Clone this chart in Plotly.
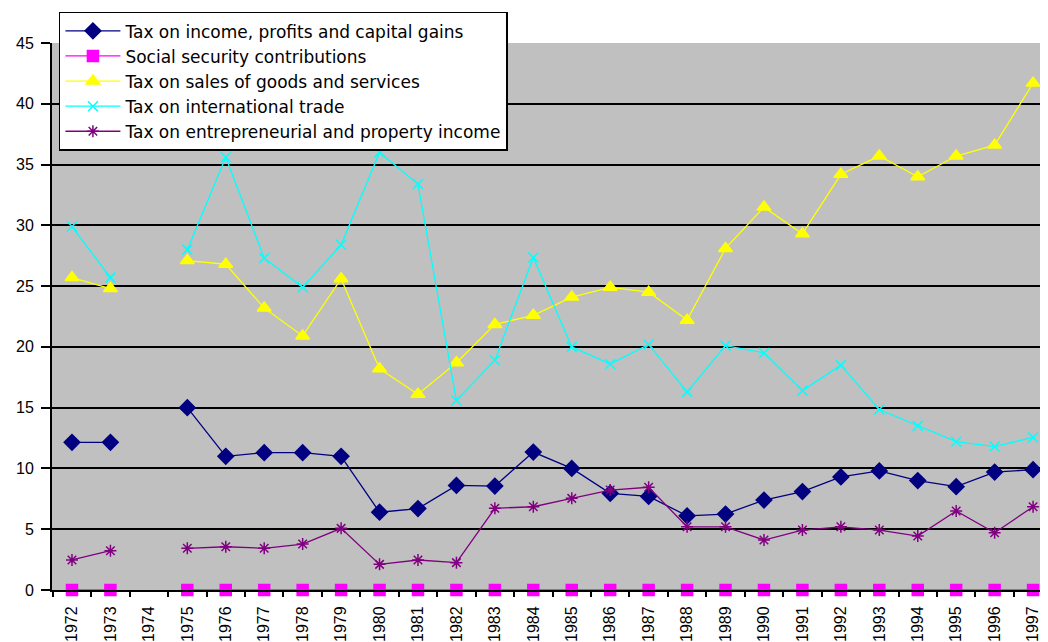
import plotly.graph_objects as go

years = [str(y) for y in range(1972, 1998)]

income_tax = [12.15, 12.15, None, 15.0, 11.0, 11.3, 11.3, 11.0, 6.4, 6.7, 8.6, 8.55, 11.35,
              10.0, 7.95, 7.7, 6.1, 6.25, 7.4, 8.1, 9.3, 9.8, 9.0, 8.5, 9.7, 9.9]
social_security = [0, 0, None, 0, 0, 0, 0, 0, 0, 0, 0, 0, 0,
                   0, 0, 0, 0, 0, 0, 0, 0, 0, 0, 0, 0, 0]
sales_tax = [25.7, 24.8, None, 27.1, 26.8, 23.2, 20.9, 25.6, 18.2, 16.1, 18.7, 21.85, 22.6,
             24.1, 24.9, 24.5, 22.2, 28.1, 31.5, 29.3, 34.2, 35.7, 34.0, 35.7, 36.6, 41.7]
trade_tax = [29.9, 25.7, None, 28.0, 35.6, 27.3, 24.9, 28.4, 36.0, 33.4, 15.6, 18.9, 27.35,
             20.0, 18.6, 20.2, 16.3, 20.1, 19.5, 16.4, 18.5, 14.85, 13.5, 12.2, 11.8, 12.55]
property_income = [2.47, 3.23, None, 3.43, 3.56, 3.43, 3.78, 5.07, 2.11, 2.47, 2.25, 6.72, 6.85,
                   7.54, 8.22, 8.45, 5.2, 5.2, 4.11, 4.93, 5.2, 4.93, 4.44, 6.5, 4.71, 6.85]

series_names = [
    "Tax on income, profits and capital gains",
    "Social security contributions",
    "Tax on sales of goods and services",
    "Tax on international trade",
    "Tax on entrepreneurial and property income",
]
series_values = [income_tax, social_security, sales_tax, trade_tax, property_income]
colors = ["#000080", "#FF00FF", "#FFFF00", "#00FFFF", "#800080"]
symbols = ["diamond", "square", "triangle-up", "x-thin-open", "asterisk-open"]
sizes = [12, 11, 12, 10, 10]

fig = go.Figure()
for name, vals, c, s, sz in zip(series_names, series_values, colors, symbols, sizes):
    fig.add_trace(go.Scatter(
        x=years, y=vals, name=name, mode="lines+markers",
        line=dict(color=c, width=1.3),
        marker=dict(symbol=s, size=sz, color=c, line=dict(color=c, width=1.5)),
        connectgaps=False, cliponaxis=False,
    ))

font_family = "Liberation Sans, Arial, sans-serif"
# the page body adds an 8px offset; the figure is sized to compensate
fig.update_layout(
    width=1032, height=634,
    margin=dict(l=44, r=0, t=35, b=52, autoexpand=False),
    paper_bgcolor="white",
    plot_bgcolor="#C0C0C0",
    font=dict(family=font_family, size=13, color="black"),
    showlegend=True,
    legend=dict(
        x=0.007, y=1.057, xanchor="left", yanchor="top",
        bgcolor="white", bordercolor="black", borderwidth=1.5,
        font=dict(family="DejaVu Sans, sans-serif", size=17, color="black"),
        itemwidth=55, tracegroupgap=0,
    ),
    xaxis=dict(
        type="category", range=[-0.52, 25.18],
        tickangle=-90, tickson="boundaries",
        ticks="outside", ticklen=5, tickwidth=1.5, tickcolor="black",
        showline=True, linecolor="black", linewidth=2,
        showgrid=False, zeroline=False, automargin=False,
        ticklabelstandoff=8,
        tickfont=dict(size=16),
    ),
    yaxis=dict(
        range=[0, 45], dtick=5,
        ticks="outside", ticklen=9, tickwidth=1.5, tickcolor="black",
        showline=True, linecolor="black", linewidth=2,
        showgrid=True, gridcolor="black", gridwidth=2,
        zeroline=False, automargin=False, ticklabelstandoff=4,
        tickfont=dict(size=16),
    ),
)

fig.write_html("out.html")
